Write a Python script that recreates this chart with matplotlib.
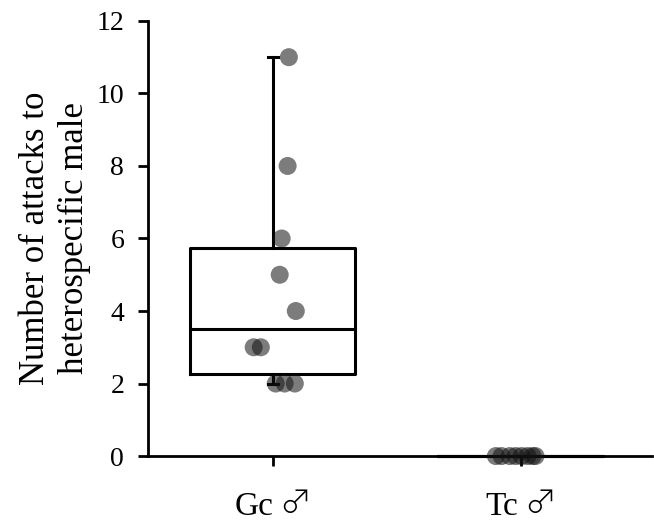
import matplotlib
matplotlib.use("Agg")
import matplotlib.pyplot as plt
import matplotlib.transforms as mtransforms
import numpy as np

categories = ["Gc", "Tc"]
sex_symbol = "\u2642"
gc_values = [11, 8, 6, 5, 4, 3, 3, 2, 2, 2]
gc_jitter = [0.065, 0.060, 0.036, 0.028, 0.093, -0.077, -0.048, 0.012, 0.048, 0.089]
tc_values = [0, 0, 0, 0, 0, 0, 0, 0]
tc_jitter = [-0.100, -0.077, -0.044, -0.020, 0.004, 0.028, 0.048, 0.060]
yticks = [0, 2, 4, 6, 8, 10, 12]

fig = plt.figure(figsize=(6.54, 5.23), dpi=100)
ax = fig.add_axes([0.226, 0.128, 0.771, 0.832])

bp = ax.boxplot([gc_values, tc_values], positions=[0, 1], widths=0.665,
                showfliers=False, whis=1.5, patch_artist=False,
                capwidths=0.04,
                boxprops=dict(color="black", linewidth=2.2),
                medianprops=dict(color="black", linewidth=2.2),
                whiskerprops=dict(color="black", linewidth=2.2),
                capprops=dict(color="black", linewidth=2.2))
for key in bp:
    for art in bp[key]:
        art.set_clip_on(False)

ax.scatter(np.array(gc_jitter) + 0, gc_values, s=168, color="#111111",
           alpha=0.55, edgecolors="none", zorder=3, clip_on=False)
ax.scatter(np.array(tc_jitter) + 1, tc_values, s=168, color="#111111",
           alpha=0.55, edgecolors="none", zorder=3, clip_on=False)

ax.set_xlim(-0.504, 1.53)
ax.set_ylim(0, 12)
ax.set_yticks(yticks)
ax.set_yticklabels([str(t) for t in yticks], fontfamily="Liberation Serif", fontsize=20)
ax.set_xticks([0, 1])
ax.tick_params(axis="x", labelbottom=False)

for s in ["top", "right"]:
    ax.spines[s].set_visible(False)
for s in ["left", "bottom"]:
    ax.spines[s].set_linewidth(2.0)
ax.tick_params(axis="both", direction="out", width=2.0, length=7, color="black")
ax.tick_params(axis="y", pad=10)

ax.set_ylabel("Number of attacks to\nheterospecific male", family="Liberation Serif",
              fontsize=25, linespacing=1.24, labelpad=4)

# category labels: name + sex symbol, centred together under each tick
trans = mtransforms.blended_transform_factory(ax.transData, fig.transFigure)
base_y = 8.0 / 523
gap_px = 6
names, syms = [], []
for i, cat in enumerate(categories):
    t1 = ax.text(i, base_y, cat, transform=trans, ha="left", va="baseline",
                 family="Liberation Serif", fontsize=24, clip_on=False)
    t2 = ax.text(i, base_y + 2.0 / 523, sex_symbol, transform=trans, ha="left", va="baseline",
                 family=["Noto Sans CJK JP", "DejaVu Sans"], fontweight="light",
                 fontsize=23, clip_on=False)
    names.append(t1)
    syms.append(t2)
fig.canvas.draw()
r = fig.canvas.get_renderer()
for i in range(len(categories)):
    w1 = names[i].get_window_extent(r).width
    w2 = syms[i].get_window_extent(r).width
    total = w1 + gap_px + w2
    names[i].set_transform(trans + mtransforms.ScaledTranslation(-total / 2 / 100, 0, fig.dpi_scale_trans))
    syms[i].set_transform(trans + mtransforms.ScaledTranslation((-total / 2 + w1 + gap_px) / 100, 0, fig.dpi_scale_trans))

fig.savefig("out.png", dpi=100)
